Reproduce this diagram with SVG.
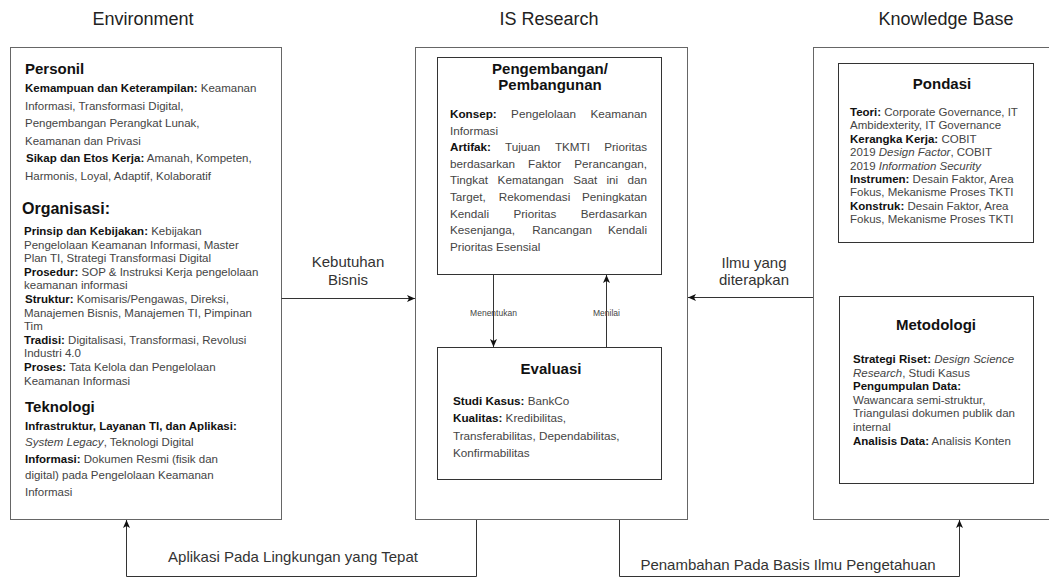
<svg xmlns="http://www.w3.org/2000/svg" width="1049" height="577" viewBox="0 0 1049 577">
<style>
text{font-family:"Liberation Sans",Arial,sans-serif;fill:#444}
.hdr{font-size:18px;fill:#222;text-anchor:middle}
.box{fill:#fff;stroke:#666;stroke-width:1}
.inner{fill:#fff;stroke:#333;stroke-width:1}
.t{font-size:11.5px}
.m{font-size:11.7px}
.b{font-weight:bold;fill:#111}
.sec{font-weight:bold;fill:#111}
.ttl{font-size:15px;font-weight:bold;fill:#111;text-anchor:middle}
.lbl{font-size:15px;fill:#333;text-anchor:middle}
.small{font-size:8.5px;fill:#444;text-anchor:middle}
.conn{stroke:#333;stroke-width:1;fill:none}
.e{text-anchor:end}
</style>
<defs>
<marker id="arr" markerUnits="userSpaceOnUse" markerWidth="9" markerHeight="8" refX="8" refY="4" orient="auto">
<path d="M0,0.5 L8,4 L0,7.5 L2,4 Z" fill="#111"/>
</marker>
</defs>
<rect width="1049" height="577" fill="#fff"/>

<g id="headers">
<text class="hdr" x="143" y="25">Environment</text>
<text class="hdr" x="549" y="25">IS Research</text>
<text class="hdr" x="946" y="25">Knowledge Base</text>
</g>

<g id="environment">
<rect class="box" x="10.5" y="47.5" width="271" height="472"/>
<text class="sec" x="25" y="74" font-size="15">Personil</text>
<text class="t" x="25" y="92"><tspan class="b">Kemampuan dan Keterampilan:</tspan> Keamanan</text>
<text class="t" x="25" y="109.5">Informasi, Transformasi Digital,</text>
<text class="t" x="25" y="127">Pengembangan Perangkat Lunak,</text>
<text class="t" x="25" y="144.5">Keamanan dan Privasi</text>
<text class="t" x="26" y="162"><tspan class="b">Sikap dan Etos Kerja:</tspan> Amanah, Kompeten,</text>
<text class="t" x="25" y="179.5">Harmonis, Loyal, Adaptif, Kolaboratif</text>
<text class="sec" x="22" y="214" font-size="16">Organisasi:</text>
<text class="t" x="24" y="235"><tspan class="b">Prinsip dan Kebijakan:</tspan> Kebijakan</text>
<text class="t" x="24" y="248.6">Pengelolaan Keamanan Informasi, Master</text>
<text class="t" x="24" y="262.2">Plan TI, Strategi Transformasi Digital</text>
<text class="t" x="24" y="275.8"><tspan class="b">Prosedur:</tspan> SOP &amp; Instruksi Kerja pengelolaan</text>
<text class="t" x="24" y="289.4">keamanan informasi</text>
<text class="t" x="25" y="303"><tspan class="b">Struktur:</tspan> Komisaris/Pengawas, Direksi,</text>
<text class="t" x="24" y="316.6">Manajemen Bisnis, Manajemen TI, Pimpinan</text>
<text class="t" x="24" y="330.2">Tim</text>
<text class="t" x="24" y="343.8"><tspan class="b">Tradisi:</tspan> Digitalisasi, Transformasi, Revolusi</text>
<text class="t" x="24" y="357.4">Industri 4.0</text>
<text class="t" x="24" y="371"><tspan class="b">Proses:</tspan> Tata Kelola dan Pengelolaan</text>
<text class="t" x="24" y="384.6">Keamanan Informasi</text>
<text class="sec" x="25" y="412" font-size="15">Teknologi</text>
<text class="t" x="25" y="429.5"><tspan class="b">Infrastruktur, Layanan TI, dan Aplikasi:</tspan></text>
<text class="t" x="25" y="446"><tspan font-style="italic">System Legacy</tspan>, Teknologi Digital</text>
<text class="t" x="25" y="462.5"><tspan class="b">Informasi:</tspan> Dokumen Resmi (fisik dan</text>
<text class="t" x="25" y="479">digital) pada Pengelolaan Keamanan</text>
<text class="t" x="25" y="495.5">Informasi</text>
</g>

<g id="is-research">
<rect class="box" x="415.5" y="47.5" width="272" height="472"/>
</g>

<g id="pengembangan">
<rect class="inner" x="437.5" y="57.5" width="224" height="217"/>
<text class="ttl" x="550" y="74">Pengembangan/</text>
<text class="ttl" x="550" y="90">Pembangunan</text>
<text class="m b" x="450" y="118">Konsep:</text>
<text class="m" x="511.1" y="118">Pengelolaan</text>
<text class="m e" x="647" y="118">Keamanan</text>
<text class="m" x="450" y="134.6">Informasi</text>
<text class="m b" x="450" y="151.2">Artifak:</text>
<text class="m" x="505" y="151.2">Tujuan</text>
<text class="m" x="554.9" y="151.2">TKMTI</text>
<text class="m e" x="647" y="151.2">Prioritas</text>
<text class="m" x="450" y="167.8">berdasarkan</text>
<text class="m" x="528" y="167.8">Faktor</text>
<text class="m e" x="647" y="167.8">Perancangan,</text>
<text class="m" x="450" y="184.4">Tingkat</text>
<text class="m" x="497.6" y="184.4">Kematangan</text>
<text class="m" x="573.2" y="184.4">Saat</text>
<text class="m" x="606.5" y="184.4">ini</text>
<text class="m e" x="647" y="184.4">dan</text>
<text class="m" x="450" y="201">Target,</text>
<text class="m" x="498.8" y="201">Rekomendasi</text>
<text class="m e" x="647" y="201">Peningkatan</text>
<text class="m" x="450" y="217.6">Kendali</text>
<text class="m" x="513.4" y="217.6">Prioritas</text>
<text class="m e" x="647" y="217.6">Berdasarkan</text>
<text class="m" x="450" y="234.2">Kesenjanga,</text>
<text class="m" x="532.2" y="234.2">Rancangan</text>
<text class="m e" x="647" y="234.2">Kendali</text>
<text class="m" x="450" y="250.8">Prioritas Esensial</text>
</g>

<g id="evaluasi">
<rect class="inner" x="437.5" y="347.5" width="224" height="132"/>
<text class="ttl" x="551" y="374">Evaluasi</text>
<text class="m" x="453" y="405"><tspan class="b">Studi Kasus:</tspan> BankCo</text>
<text class="m" x="453" y="422.3"><tspan class="b">Kualitas:</tspan> Kredibilitas,</text>
<text class="m" x="453" y="439.6">Transferabilitas, Dependabilitas,</text>
<text class="m" x="453" y="456.9">Konfirmabilitas</text>
</g>

<g id="knowledge-base">
<rect class="box" x="813.5" y="47.5" width="250" height="472"/>
</g>

<g id="pondasi">
<rect class="inner" x="838.5" y="63.5" width="195" height="179"/>
<text class="ttl" x="942" y="89">Pondasi</text>
<text class="t" x="850" y="116"><tspan class="b">Teori:</tspan> Corporate Governance, IT</text>
<text class="t" x="850" y="129.4">Ambidexterity, IT Governance</text>
<text class="t" x="850" y="142.8"><tspan class="b">Kerangka Kerja:</tspan> COBIT</text>
<text class="t" x="850" y="156.2">2019 <tspan font-style="italic">Design Factor</tspan>, COBIT</text>
<text class="t" x="850" y="169.6">2019 <tspan font-style="italic">Information Security</tspan></text>
<text class="t" x="850" y="183"><tspan class="b">Instrumen:</tspan> Desain Faktor, Area</text>
<text class="t" x="850" y="196.4">Fokus, Mekanisme Proses TKTI</text>
<text class="t" x="850" y="209.8"><tspan class="b">Konstruk:</tspan> Desain Faktor, Area</text>
<text class="t" x="850" y="223.2">Fokus, Mekanisme Proses TKTI</text>
</g>

<g id="metodologi">
<rect class="inner" x="839.5" y="296.5" width="194" height="187"/>
<text class="ttl" x="936" y="330">Metodologi</text>
<text class="t" x="853" y="363"><tspan class="b">Strategi Riset:</tspan> <tspan font-style="italic">Design Science</tspan></text>
<text class="t" x="853" y="376.5"><tspan font-style="italic">Research</tspan>, Studi Kasus</text>
<text class="t" x="853" y="390"><tspan class="b">Pengumpulan Data:</tspan></text>
<text class="t" x="853" y="403.5">Wawancara semi-struktur,</text>
<text class="t" x="853" y="417">Triangulasi dokumen publik dan</text>
<text class="t" x="853" y="430.5">internal</text>
<text class="t" x="853" y="445"><tspan class="b">Analisis Data:</tspan> Analisis Konten</text>
</g>

<g id="connectors">
<line class="conn" x1="281.5" y1="298.5" x2="415" y2="298.5" marker-end="url(#arr)"/>
<text class="lbl" x="348" y="267">Kebutuhan</text>
<text class="lbl" x="348" y="285">Bisnis</text>
<line class="conn" x1="813" y1="297.5" x2="688" y2="297.5" marker-end="url(#arr)"/>
<text class="lbl" x="754" y="268">Ilmu yang</text>
<text class="lbl" x="754" y="285">diterapkan</text>
<line class="conn" x1="493.5" y1="275" x2="493.5" y2="347" marker-end="url(#arr)"/>
<text class="small" x="493.5" y="316">Menentukan</text>
<line class="conn" x1="606.5" y1="347" x2="606.5" y2="275" marker-end="url(#arr)"/>
<text class="small" x="606.5" y="316">Menilai</text>
<path class="conn" d="M476.5,520 V576.5 H126.5 V520" marker-end="url(#arr)"/>
<text class="lbl" x="293" y="562">Aplikasi Pada Lingkungan yang Tepat</text>
<path class="conn" d="M619.5,520 V576.5 H959.5 V520" marker-end="url(#arr)"/>
<text class="lbl" x="788" y="570">Penambahan Pada Basis Ilmu Pengetahuan</text>
</g>
</svg>
